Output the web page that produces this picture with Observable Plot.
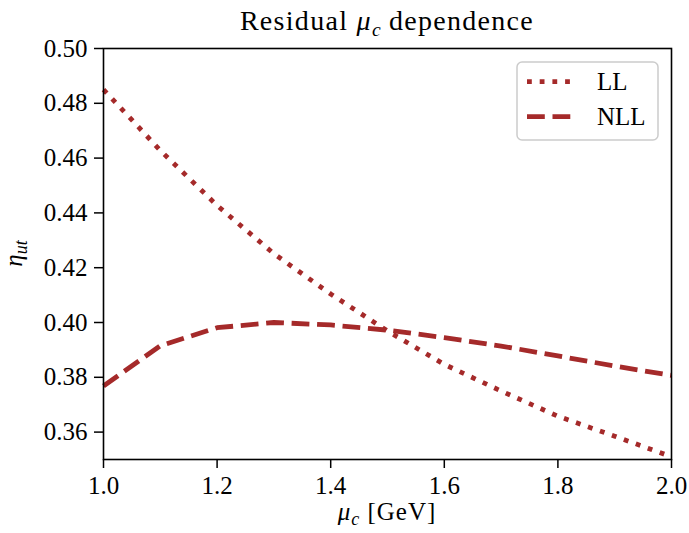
<!DOCTYPE html>
<html><head><meta charset="utf-8">
<script src="https://cdn.jsdelivr.net/npm/d3@7"></script>
<script src="https://cdn.jsdelivr.net/npm/@observablehq/plot@0.6"></script>
<style>
body{margin:0;background:#fff;font-family:"Liberation Serif",serif;}
#wrap{position:relative;width:689px;height:533px;}
#title{position:absolute;left:0;top:0;z-index:2;height:40px;width:689px;box-sizing:border-box;padding-left:103px;padding-right:18px;text-align:center;font-family:"Liberation Serif",serif;font-size:28px;letter-spacing:1.3px;line-height:41px;white-space:nowrap;color:#000;}
#title sub{font-size:0.7em;line-height:0;vertical-align:-0.3em;letter-spacing:0;}
</style></head><body>
<div id="wrap">
<div id="title">Residual <i>μ<sub>c</sub></i> dependence</div>
<div id="chart"></div>
</div>
<script>
const muC = [1.0, 1.1, 1.2, 1.3, 1.4, 1.5, 1.6, 1.7, 1.8, 1.9, 2.0];
const etaLL = [0.4850, 0.4628, 0.4427, 0.4251, 0.4104, 0.3969, 0.3847, 0.3750, 0.3658, 0.3585, 0.3510];
const etaNLL = [0.3768, 0.3915, 0.3981, 0.4000, 0.3991, 0.3972, 0.3945, 0.3914, 0.3878, 0.3841, 0.3807];
const seriesNames = ["LL", "NLL"];
const xTicks = [1.0, 1.2, 1.4, 1.6, 1.8, 2.0];
const yTicks = [0.36, 0.38, 0.40, 0.42, 0.44, 0.46, 0.48, 0.50];

const color = "#a52a2a";
const dashes = {LL: "4.8,7.9", NLL: "17.8,7.7"};
const lw = 4.8;
const serif = "'Liberation Serif', serif";

const llData = muC.map((x, i) => ({x, y: etaLL[i]}));
const nllData = muC.map((x, i) => ({x, y: etaNLL[i]}));

const mt = 48, mb = 74, ml = 103, mr = 18, H = 533, W = 689;

const svg = Plot.plot({
  width: W, height: H,
  marginTop: mt, marginBottom: mb, marginLeft: ml, marginRight: mr,
  style: {fontFamily: serif, fontSize: "25px", color: "#000", background: "transparent"},
  x: {domain: [1.0, 2.0]},
  y: {domain: [0.35, 0.50]},
  marks: [
    Plot.line(llData, {x: "x", y: "y", stroke: color, strokeWidth: lw, strokeDasharray: dashes.LL, strokeLinecap: "butt"}),
    Plot.line(nllData, {x: "x", y: "y", stroke: color, strokeWidth: lw, strokeDasharray: dashes.NLL, strokeLinecap: "butt"}),
    Plot.axisX({ticks: xTicks, tickFormat: d3.format(".1f"), tickSize: 9, tickPadding: 8, strokeWidth: 1.5, label: null, fontFamily: serif}),
    Plot.axisY({ticks: yTicks, tickFormat: d3.format(".2f"), tickSize: 9, tickPadding: 7, strokeWidth: 1.5, label: null, fontFamily: serif}),
    Plot.frame({stroke: "#000", strokeWidth: 1.6})
  ]
});

const s = d3.select(svg);
s.attr("font-family", serif);
// x label
const xl = s.append("text").attr("x", ml + (W - ml - mr) / 2).attr("y", 520)
  .attr("text-anchor", "middle").attr("font-size", 25).attr("fill", "#000").attr("letter-spacing", 1);
xl.append("tspan").attr("font-style", "italic").text("μ");
xl.append("tspan").attr("font-style", "italic").attr("font-size", 18).attr("dy", 5).text("c");
xl.append("tspan").attr("dy", -5).text(" [GeV]");

// y label
const yl = s.append("text").attr("transform", `translate(22,${mt + (H - mt - mb) / 2}) rotate(-90)`)
  .attr("text-anchor", "middle").attr("font-size", 25).attr("fill", "#000");
yl.append("tspan").attr("font-style", "italic").text("η");
yl.append("tspan").attr("font-style", "italic").attr("font-size", 18).attr("dy", 5).text("ut");

// legend
const lg = s.append("g");
lg.append("rect").attr("x", 517).attr("y", 62).attr("width", 141).attr("height", 78).attr("rx", 5)
  .attr("fill", "#fff").attr("fill-opacity", 0.8).attr("stroke", "#cccccc").attr("stroke-width", 1.5);
seriesNames.forEach((name, i) => {
  const cy = 81.7 + i * 35;
  lg.append("line").attr("x1", 527).attr("x2", 573).attr("y1", cy).attr("y2", cy)
    .attr("stroke", color).attr("stroke-width", lw).attr("stroke-dasharray", dashes[name]);
  lg.append("text").attr("x", 597).attr("y", cy + 8).attr("text-anchor", "start")
    .attr("font-size", 25).attr("fill", "#000").text(name);
});

s.selectAll("text").style("font-family", serif);

document.getElementById("chart").appendChild(svg);
</script>
</body></html>
